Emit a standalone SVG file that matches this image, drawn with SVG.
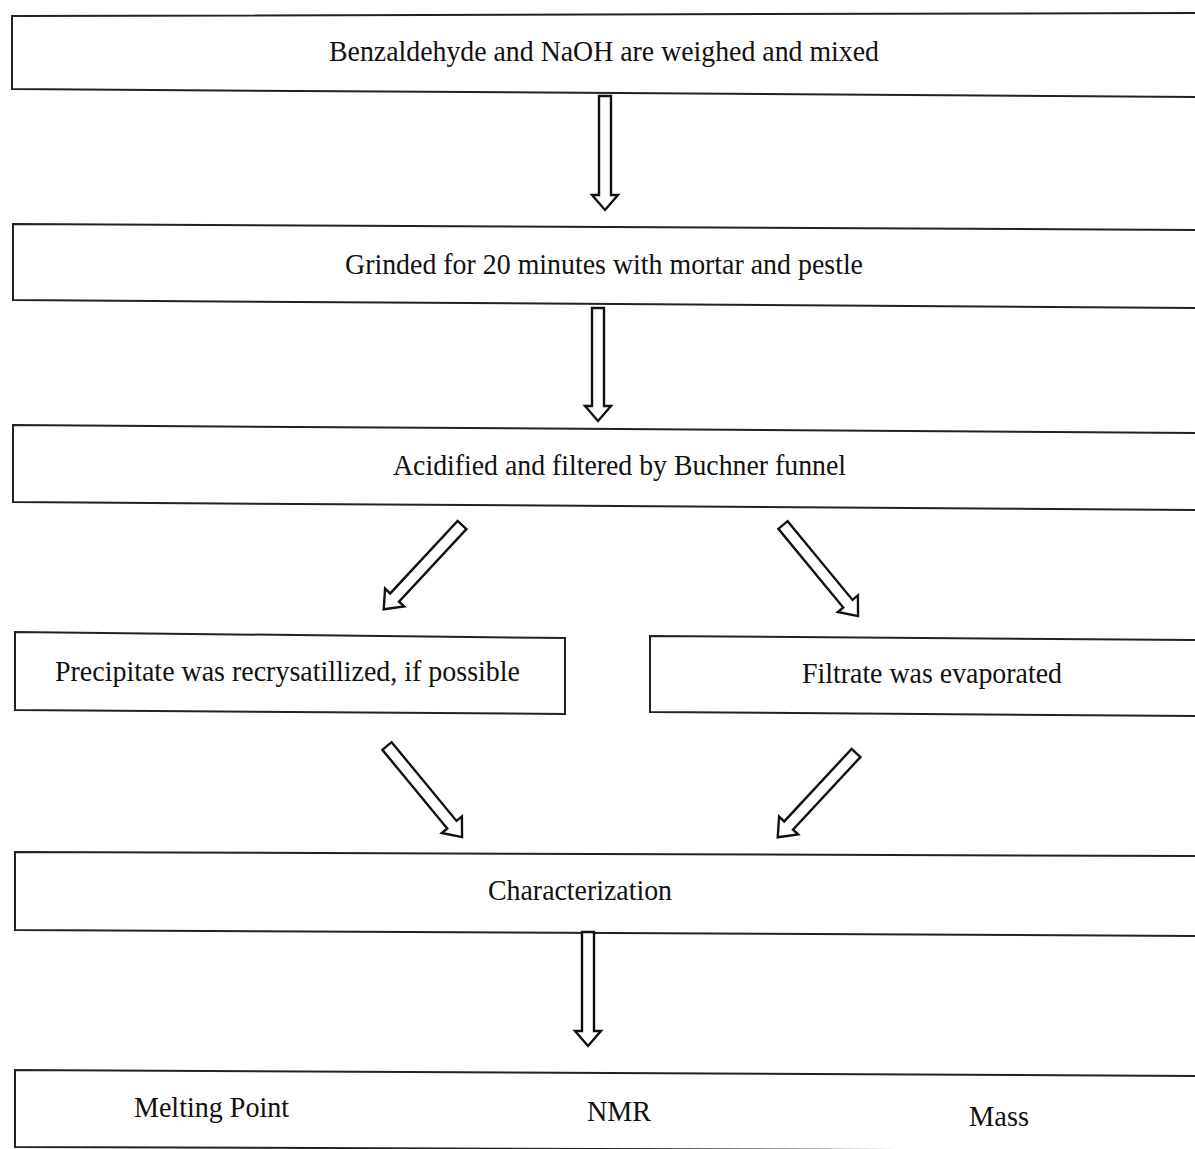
<svg xmlns="http://www.w3.org/2000/svg" width="1195" height="1149" viewBox="0 0 1195 1149">
<style>
.box{fill:#fff;stroke:#222;stroke-width:2}
.t{font-family:"Liberation Serif","Times New Roman",serif;font-size:29px;fill:#111}
.arr{fill:#fff;stroke:#111;stroke-width:2.4;stroke-linejoin:miter}
</style>
<rect width="1195" height="1149" fill="#fff"/>
<g id="n1"><polygon class="box" points="12,16 1197,13 1197,97 12,89"/><text class="t" x="329" y="61" textLength="550" lengthAdjust="spacingAndGlyphs">Benzaldehyde and NaOH are weighed and mixed</text></g>
<g id="n2"><polygon class="box" points="13,224 1197,230 1197,308 13,300"/><text class="t" x="345" y="274" textLength="518" lengthAdjust="spacingAndGlyphs">Grinded for 20 minutes with mortar and pestle</text></g>
<g id="n3"><polygon class="box" points="13,425 1197,433 1197,510 13,502"/><text class="t" x="393" y="475" textLength="453" lengthAdjust="spacingAndGlyphs">Acidified and filtered by Buchner funnel</text></g>
<g id="n4"><polygon class="box" points="15,632 565,638 565,714 15,710"/><text class="t" x="55" y="681" textLength="465" lengthAdjust="spacingAndGlyphs">Precipitate was recrysatillized, if possible</text></g>
<g id="n5"><polygon class="box" points="650,636 1197,640 1197,716 650,712"/><text class="t" x="802" y="683" textLength="260" lengthAdjust="spacingAndGlyphs">Filtrate was evaporated</text></g>
<g id="n6"><polygon class="box" points="15,852 1197,856 1197,936 15,930"/><text class="t" x="488" y="900" textLength="184" lengthAdjust="spacingAndGlyphs">Characterization</text></g>
<g id="n7"><polygon class="box" points="15,1070 1197,1076 1197,1151 15,1147"/>
<text class="t" x="134" y="1117" textLength="155" lengthAdjust="spacingAndGlyphs">Melting Point</text>
<text class="t" x="587" y="1121" textLength="64" lengthAdjust="spacingAndGlyphs">NMR</text>
<text class="t" x="969" y="1126" textLength="60" lengthAdjust="spacingAndGlyphs">Mass</text></g>
<g id="connectors">
<polygon class="arr" transform="translate(605,96) rotate(90)" points="0,-6 99,-6 99,-13 114,0 99,13 99,6 0,6"/>
<polygon class="arr" transform="translate(598,308) rotate(90)" points="0,-6 98,-6 98,-13 113,0 98,13 98,6 0,6"/>
<polygon class="arr" transform="translate(588,932) rotate(90)" points="0,-6 99,-6 99,-13 114,0 99,13 99,6 0,6"/>
<polygon class="arr" transform="translate(462,525) rotate(132.9)" points="0,-6 99,-6 99,-13 115,0 99,13 99,6 0,6"/>
<polygon class="arr" transform="translate(783,525) rotate(50.5)" points="0,-6 102,-6 102,-13 118,0 102,13 102,6 0,6"/>
<polygon class="arr" transform="translate(387,746) rotate(50.5)" points="0,-6 102,-6 102,-13 118,0 102,13 102,6 0,6"/>
<polygon class="arr" transform="translate(856,753) rotate(132.9)" points="0,-6 99,-6 99,-13 115,0 99,13 99,6 0,6"/>
</g>
</svg>
